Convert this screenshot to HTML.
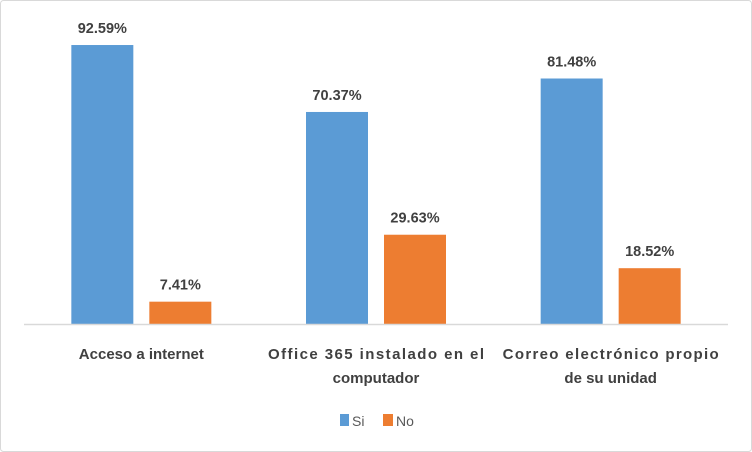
<!DOCTYPE html>
<html><head><meta charset="utf-8"><style>
body{margin:0;background:#fff}
svg{display:block;font-family:"Liberation Sans",sans-serif}
</style></head><body>
<svg width="752" height="452" viewBox="0 0 752 452">
<rect x="0.5" y="0.5" width="751" height="451" rx="3" fill="#fff" stroke="#d9d9d9"/>
<g id="plot"></g>
<line x1="24" y1="324.5" x2="728" y2="324.5" stroke="#d9d9d9" stroke-width="1.5"/>
<g font-size="14" fill="#595959">
<rect x="340" y="414" width="9" height="12" fill="#5b9bd5"/>
<text x="352" y="426">Si</text>
<rect x="383" y="414" width="10" height="12" fill="#ed7d31"/>
<text x="396" y="426">No</text>
</g>
</svg>
<script>
const categories=[["Acceso a internet"],["Office 365 instalado en el","computador"],["Correo electrónico propio","de su unidad"]];
const si=[92.59,70.37,81.48];
const no=[7.41,29.63,18.52];
const seriesNames=["Si","No"];
const colors=["#5b9bd5","#ed7d31"];
const x0=24,x1=728,base=324,pxPer=3.013;
const gw=(x1-x0)/categories.length;
const y=v=>base-v*pxPer;
const g=document.getElementById('plot');
const NS="http://www.w3.org/2000/svg";
function mk(t,a){const e=document.createElementNS(NS,t);for(const k in a)e.setAttribute(k,a[k]);g.appendChild(e);return e;}
categories.forEach((c,i)=>{
  const cx=x0+gw*(i+0.5);
  [si,no].forEach((s,j)=>{
    const bx=cx-70+j*78;
    const r=mk('rect',{x:bx,y:y(s[i]),width:62,height:base-y(s[i]),fill:colors[j]});
    
    
    const t=mk('text',{x:bx+31,y:y(s[i])-12,'text-anchor':'middle','font-size':'14.5','font-weight':'bold',fill:'#404040'});
    t.textContent=s[i].toFixed(2)+'%';
    
    
  });
  c.forEach((ln,k)=>{
    const t=mk('text',{x:cx,y:359+k*24,'text-anchor':'middle','font-size':'15','font-weight':'bold',fill:'#404040'});
    if(ln.length>20)t.setAttribute('textLength','216');
    t.textContent=ln;
    
    
  });
});
</script>
</body></html>
